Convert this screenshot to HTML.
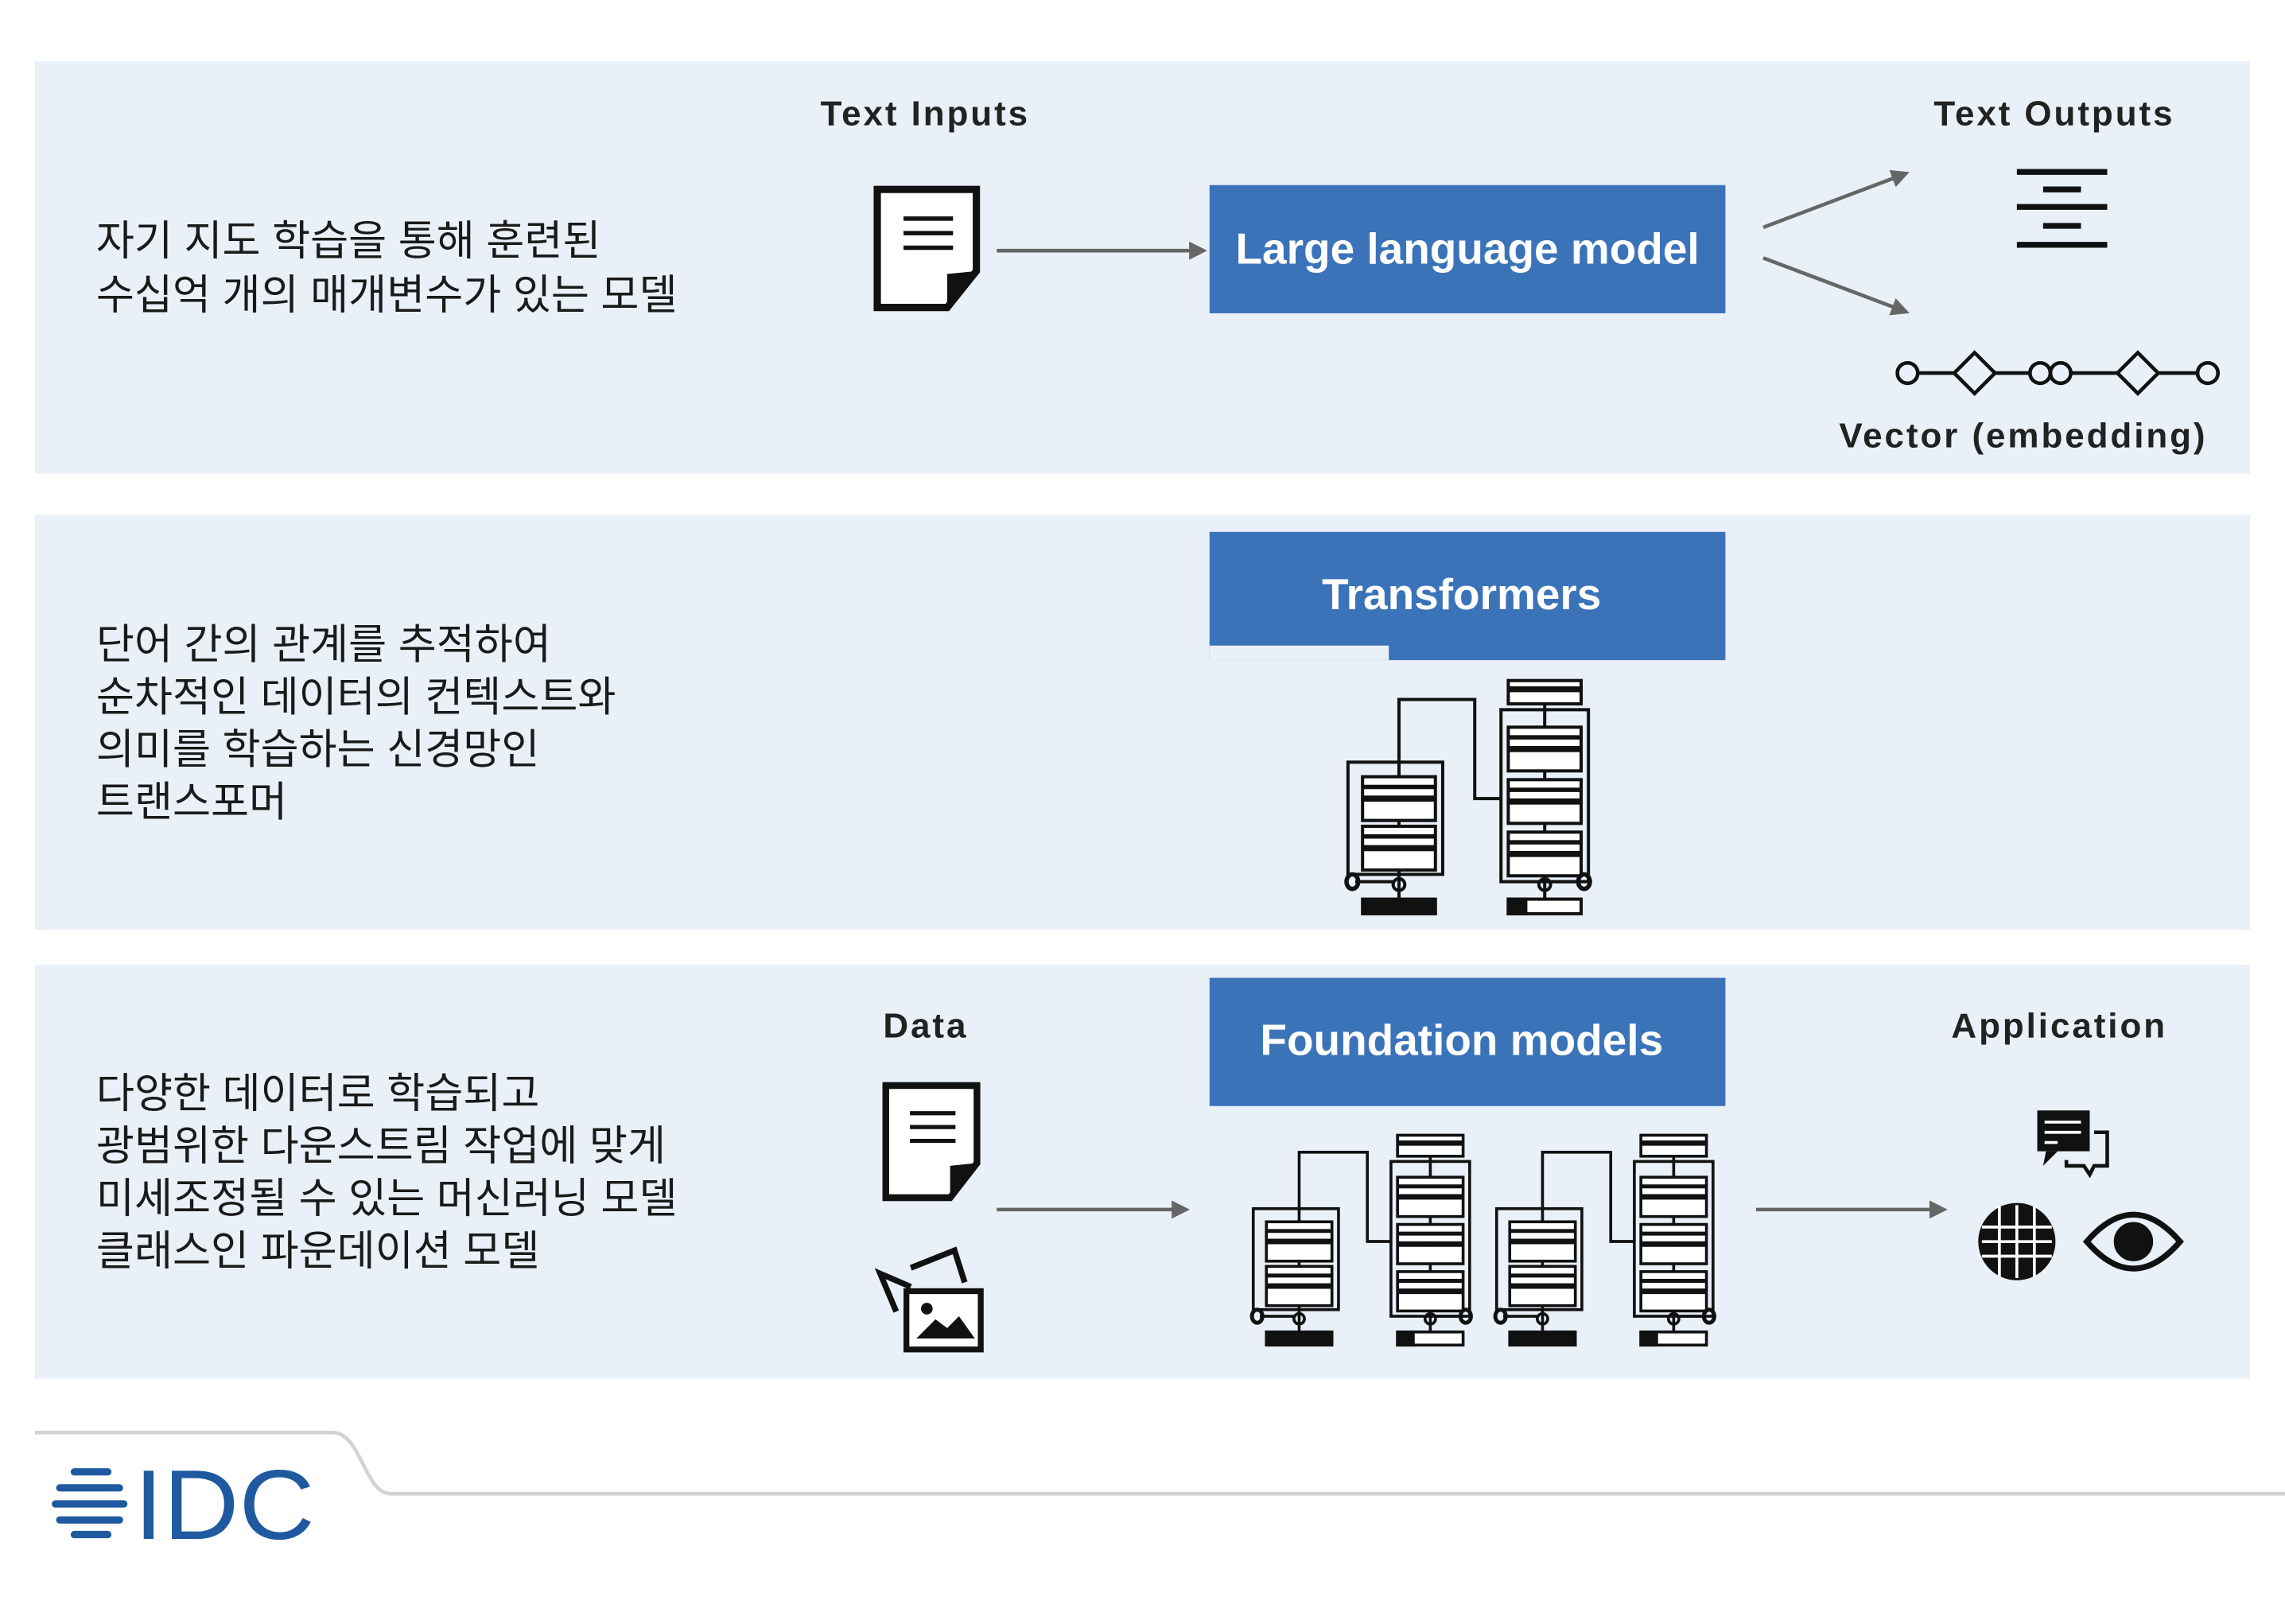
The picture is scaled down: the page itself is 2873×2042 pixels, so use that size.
<!DOCTYPE html>
<html><head><meta charset="utf-8"><style>
html,body{margin:0;padding:0;background:#fff;}
svg{display:block;}
.ko{font-family:"Liberation Sans","Noto Sans CJK KR",sans-serif;font-size:28.5px;fill:#1a1a1a;}
.lb{font-family:"Liberation Sans","DejaVu Sans",sans-serif;font-size:24px;font-weight:bold;fill:#222;letter-spacing:1.6px;}
.bt{font-family:"Liberation Sans","DejaVu Sans",sans-serif;font-size:30px;font-weight:bold;fill:#fff;}
</style></head><body>
<svg width="2873" height="2042" viewBox="0 0 1568 1114.4" preserveAspectRatio="none" xmlns="http://www.w3.org/2000/svg">
<defs>
<g id="tr" fill="none" stroke="#111" stroke-width="2.2">
  <line x1="35" y1="56" x2="35" y2="150"/>
  <line x1="135" y1="8" x2="135" y2="150"/>
  <path d="M35 56 V13 H87 V81 H105"/>
  <rect x="0" y="56" width="65" height="77"/>
  <rect x="10" y="66" width="50" height="14" fill="#fff"/>
  <rect x="10" y="82" width="50" height="14" fill="#fff"/>
  <rect x="10" y="100" width="50" height="14" fill="#fff"/>
  <rect x="10" y="116" width="50" height="14" fill="#fff"/>
  <line x1="10" y1="73" x2="60" y2="73" stroke-width="3"/>
  <line x1="10" y1="107" x2="60" y2="107" stroke-width="3"/>
  <rect x="105" y="20" width="60" height="118"/>
  <rect x="110" y="0" width="50" height="16" fill="#fff"/>
  <line x1="110" y1="6" x2="160" y2="6" stroke-width="4"/>
  <rect x="110" y="32" width="50" height="14" fill="#fff"/>
  <rect x="110" y="48" width="50" height="14" fill="#fff"/>
  <rect x="110" y="68" width="50" height="14" fill="#fff"/>
  <rect x="110" y="84" width="50" height="14" fill="#fff"/>
  <rect x="110" y="104" width="50" height="14" fill="#fff"/>
  <rect x="110" y="120" width="50" height="14" fill="#fff"/>
  <line x1="110" y1="39" x2="160" y2="39" stroke-width="3"/>
  <line x1="110" y1="75" x2="160" y2="75" stroke-width="3"/>
  <line x1="110" y1="111" x2="160" y2="111" stroke-width="3"/>
  <ellipse cx="3" cy="138" rx="4" ry="5" stroke-width="3"/>
  <circle cx="35" cy="140" r="4"/>
  <ellipse cx="162" cy="138" rx="4" ry="5" stroke-width="3"/>
  <circle cx="135" cy="140" r="4"/>
  <line x1="5" y1="138" x2="32" y2="138"/>
  <line x1="138" y1="138" x2="160" y2="138"/>
  <rect x="10" y="150" width="50" height="10" fill="#111"/>
  <rect x="110" y="150" width="50" height="10" fill="#fff"/>
  <rect x="110" y="150" width="12" height="10" fill="#111"/>
</g>
<g id="doc">
  <path d="M2 2 H70 V58 L50 83 H2 Z" fill="#fff" stroke="#111" stroke-width="5"/>
  <path d="M70 58 L50 83 V60 Z" fill="#111"/>
  <line x1="20" y1="22" x2="54" y2="22" stroke="#111" stroke-width="3"/>
  <line x1="20" y1="32" x2="54" y2="32" stroke="#111" stroke-width="3"/>
  <line x1="20" y1="42" x2="54" y2="42" stroke="#111" stroke-width="3"/>
</g>
<marker id="ah" viewBox="0 0 10 10" refX="8" refY="5" markerWidth="5" markerHeight="5" orient="auto"><path d="M0 0 L10 5 L0 10 Z" fill="#666"/></marker>
</defs>

<rect x="24" y="42" width="1520" height="283" fill="#e9f0f8"/>
<rect x="24" y="353" width="1520" height="285" fill="#e9f0f8"/>
<rect x="24" y="662" width="1520" height="284" fill="#e9f0f8"/>

<!-- Panel 1 -->
<text class="ko" x="66" y="175">자기 지도 학습을 통해 훈련된</text>
<text class="ko" x="66" y="212">수십억 개의 매개변수가 있는 모델</text>
<text class="lb" x="563" y="86">Text Inputs</text>
<use href="#doc" x="600" y="128"/>
<line x1="684" y1="172" x2="826" y2="172" stroke="#666" stroke-width="2.5" marker-end="url(#ah)"/>
<rect x="830" y="127" width="354" height="88" fill="#3b73b9"/>
<text class="bt" x="1007" y="181" text-anchor="middle">Large language model</text>
<line x1="1210" y1="156" x2="1308" y2="119" stroke="#666" stroke-width="2.5" marker-end="url(#ah)"/>
<line x1="1210" y1="177" x2="1308" y2="214" stroke="#666" stroke-width="2.5" marker-end="url(#ah)"/>
<text class="lb" x="1327" y="86">Text Outputs</text>
<g stroke="#111" stroke-width="4">
<line x1="1384" y1="118" x2="1446" y2="118"/><line x1="1402" y1="130" x2="1428" y2="130"/>
<line x1="1384" y1="142" x2="1446" y2="142"/><line x1="1402" y1="155" x2="1428" y2="155"/>
<line x1="1384" y1="168" x2="1446" y2="168"/></g>
<g fill="none" stroke="#111" stroke-width="2.5">
<circle cx="1309" cy="256" r="7"/><line x1="1316" y1="256" x2="1341" y2="256"/>
<path d="M1341 256 L1355 242 L1369 256 L1355 270 Z"/><line x1="1369" y1="256" x2="1393" y2="256"/>
<circle cx="1400" cy="256" r="7"/><circle cx="1414" cy="256" r="7"/><line x1="1421" y1="256" x2="1453" y2="256"/>
<path d="M1453 256 L1467 242 L1481 256 L1467 270 Z"/><line x1="1481" y1="256" x2="1508" y2="256"/>
<circle cx="1515" cy="256" r="7"/></g>
<text class="lb" x="1262" y="307">Vector (embedding)</text>

<!-- Panel 2 -->
<text class="ko" x="66" y="452">단어 간의 관계를 추적하여</text>
<text class="ko" x="66" y="488">순차적인 데이터의 컨텍스트와</text>
<text class="ko" x="66" y="524">의미를 학습하는 신경망인</text>
<text class="ko" x="66" y="560">트랜스포머</text>
<rect x="830" y="365" width="354" height="88" fill="#3b73b9"/>
<rect x="830" y="443" width="123" height="10" fill="#e9f0f8"/>
<text class="bt" x="1003" y="418" text-anchor="middle">Transformers</text>
<use href="#tr" x="925" y="467"/>

<!-- Panel 3 -->
<text class="ko" x="66" y="760">다양한 데이터로 학습되고</text>
<text class="ko" x="66" y="796">광범위한 다운스트림 작업에 맞게</text>
<text class="ko" x="66" y="832">미세조정될 수 있는 머신러닝 모델</text>
<text class="ko" x="66" y="868">클래스인 파운데이션 모델</text>
<text class="lb" x="606" y="712">Data</text>
<g transform="translate(606 743) scale(0.92 0.95)"><use href="#doc"/></g>
<g fill="none" stroke="#111" stroke-width="4">
<path d="M625 883 L604 874 L615 900 M625 870 L655 858 L662 880"/>
<rect x="622" y="886" width="51" height="40" fill="#fff"/>
<circle cx="636" cy="898" r="2" fill="#111"/>
<path d="M630 918 L642 906 L650 912 L658 904 L668 918 Z" fill="#111" stroke-width="1"/>
</g>
<line x1="684" y1="830" x2="814" y2="830" stroke="#666" stroke-width="2.5" marker-end="url(#ah)"/>
<rect x="830" y="671" width="354" height="88" fill="#3b73b9"/>
<text class="bt" x="1003" y="724" text-anchor="middle">Foundation models</text>
<g transform="translate(860 779) scale(0.9)"><use href="#tr"/></g>
<g transform="translate(1027 779) scale(0.9)"><use href="#tr"/></g>
<line x1="1205" y1="830" x2="1334" y2="830" stroke="#666" stroke-width="2.5" marker-end="url(#ah)"/>
<text class="lb" x="1339" y="712">Application</text>
<rect x="1398" y="762" width="36" height="28" fill="#111"/>
<g stroke="#fff" stroke-width="2"><line x1="1403" y1="770" x2="1428" y2="770"/><line x1="1403" y1="777" x2="1428" y2="777"/><line x1="1403" y1="784" x2="1412" y2="784"/></g>
<path d="M1404 790 L1402 800 L1412 790 Z" fill="#111"/>
<path d="M1437 777 H1446 V800 H1437 L1434 806 L1430 800 H1418 V796" fill="none" stroke="#111" stroke-width="2.5"/>
<g fill="none" stroke="#111" stroke-width="3">
<circle cx="1384" cy="852" r="25" fill="#111"/>
<g stroke="#fff" stroke-width="2"><line x1="1360" y1="842" x2="1408" y2="842"/><line x1="1360" y1="852" x2="1408" y2="852"/><line x1="1360" y1="862" x2="1408" y2="862"/>
<line x1="1372" y1="828" x2="1372" y2="876"/><line x1="1384" y1="827" x2="1384" y2="877"/><line x1="1396" y1="828" x2="1396" y2="876"/></g>
<path d="M1432 852 Q1464 815 1496 852 Q1464 889 1432 852 Z" stroke-width="4"/>
<circle cx="1464" cy="852" r="12" fill="#111"/>
</g>

<!-- Footer -->
<path d="M24 983 H228 C248 983 250 1025 268 1025 H1568" fill="none" stroke="#d0d3d6" stroke-width="2.5"/>
<g stroke="#1f5aa0" stroke-width="5" stroke-linecap="round">
<line x1="51" y1="1010" x2="74" y2="1010"/><line x1="41" y1="1021" x2="82" y2="1021"/>
<line x1="38" y1="1032" x2="85" y2="1032"/><line x1="41" y1="1043" x2="82" y2="1043"/><line x1="51" y1="1053" x2="74" y2="1053"/></g>
<text x="92" y="1056" font-family="Liberation Sans, sans-serif" font-size="68" fill="#1f5aa0" textLength="124" lengthAdjust="spacingAndGlyphs">IDC</text>
</svg>
</body></html>
